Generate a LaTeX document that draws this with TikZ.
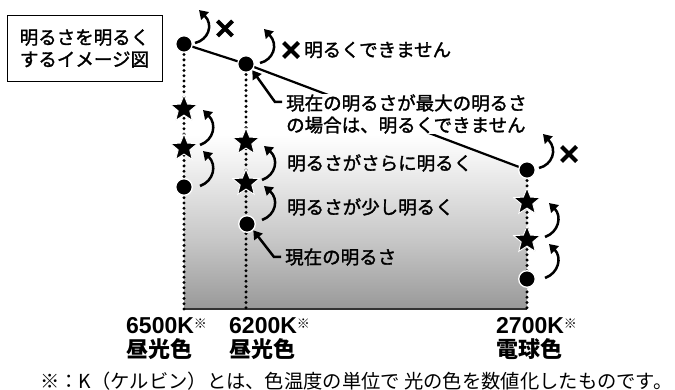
\documentclass[tikz,border=0pt]{standalone}
\usepackage{fontspec}
\setmainfont{Noto Sans CJK JP}
\newfontfamily\jpmed{Noto Sans CJK JP}[FakeBold=1.6]
\newfontfamily\latinb{Liberation Sans}
\usetikzlibrary{shapes.geometric,arrows.meta}
\pgfdeclareverticalshading{brightfill}{100bp}{color(0bp)=(black!40); color(25bp)=(black!40); color(38bp)=(black!22); color(53bp)=(black!5); color(58bp)=(white); color(100bp)=(white)}
\tikzset{
  bigdot/.style={circle, fill=black, draw=white, line width=1.3pt, minimum size=16.5pt, inner sep=0pt},
  starm/.style={star, star points=5, star point ratio=2.3, fill=black, draw=white, line width=0.9pt, minimum size=28pt, inner sep=0pt},
  dotline/.style={line width=3.3pt, line cap=round, dash pattern=on 0pt off 5.3pt, black},
  carrow/.style={line width=2.5pt, -{Triangle[length=8.5pt,width=10.5pt]}},
  crossm/.style={line width=4pt},
  lbl/.style={anchor=west, inner sep=0pt, font=\jpmed\fontsize{18.5pt}{25pt}\selectfont},
  klbl/.style={anchor=west, inner sep=0pt, font=\latinb\bfseries\fontsize{23pt}{25pt}\selectfont},
  clbl/.style={anchor=west, inner sep=0pt, font=\bfseries\fontsize{22pt}{25pt}\selectfont},
}
\newcommand\kmark{\raisebox{5pt}{\rmfamily\mdseries\fontsize{13pt}{13pt}\selectfont ※}}
\begin{document}
\begin{tikzpicture}[x=1pt,y=-1pt]
\useasboundingbox (0,0) rectangle (675,390);
% key points
\coordinate (a1) at (184,44);
\coordinate (b1) at (246,64);
\coordinate (c1) at (527,170);
\coordinate (a0) at (184,309);
\coordinate (b0) at (246,309);
\coordinate (c0) at (527,309);
% shaded area
\shade[shading=brightfill] (a1) -- (b1) -- (c1) -- (c0) -- (a0) -- cycle;
\draw[line width=2.2pt, black!80] (a0) -- (c0);
\draw[line width=2.2pt] (a1) -- (b1) -- (c1);
% dotted columns
\draw[dotline] (a1) -- (a0);
\draw[dotline] (b1) -- (b0);
\draw[dotline] (c1) -- (c0);
% markers
\node[bigdot] (A1) at (a1) {};
\node[bigdot] (B1) at (b1) {};
\node[bigdot] (C1) at (c1) {};
\node[starm] (A2) at (184,109) {};
\node[starm] (A3) at (184,148) {};
\node[bigdot] (A4) at (184,187) {};
\node[starm] (B2) at (246,142) {};
\node[starm] (B3) at (246,183) {};
\node[bigdot] (B4) at (247,224) {};
\node[starm] (C2) at (527,202) {};
\node[starm] (C3) at (527,240) {};
\node[bigdot] (C4) at (527,279) {};
% step arrows
\draw[carrow] (200,186) .. controls (214,181) and (217,165) .. (203,151);
\draw[carrow] (200,145) .. controls (214,140) and (217,124) .. (203,110);
\draw[carrow] (262,180) .. controls (276,175) and (279,159) .. (264,146);
\draw[carrow] (262,220) .. controls (276,215) and (279,199) .. (264,186);
\draw[carrow] (545,237) .. controls (559,232) and (562,216) .. (549,203);
\draw[carrow] (545,278) .. controls (559,273) and (562,257) .. (549,244);
% blocked arrows
\draw[carrow] (195,43) .. controls (208,40) and (214,25) .. (199,10);
\draw[carrow] (260,63) .. controls (273,60) and (279,45) .. (264,29);
\draw[carrow] (539,168) .. controls (552,165) and (558,150) .. (543,134);
% crosses
\foreach \cx/\cy in {225/28.5, 291/50, 569/154}{
  \draw[crossm] (\cx-7.5,\cy-7.5) -- (\cx+7.5,\cy+7.5);
  \draw[crossm] (\cx-7.5,\cy+7.5) -- (\cx+7.5,\cy-7.5);
}
% pointer arrows
\coordinate (p1) at (282,102);
\coordinate (p2) at (281,257);
\draw[carrow] (p1) -- (275,102) -- (B1.south east);
\draw[carrow] (p2) -- (274,257) -- (B4.south east);
% labels
\node[draw, line width=1pt, minimum width=155pt, minimum height=66pt, inner sep=0pt, align=center,
      font=\jpmed\fontsize{18.5pt}{22pt}\selectfont] (box) at (84.5,48.5) {明るさを明るく\\するイメージ図};
\node[lbl] (t1) at (304,50) {明るくできません};
\node[lbl, align=left, fill=white] (t2) at (286,114) {現在の明るさが最大の明るさ\\[-3pt]の場合は、明るくできません};
\node[lbl] (t3) at (287,163) {明るさがさらに明るく};
\node[lbl] (t4) at (287,207) {明るさが少し明るく};
\node[lbl] (t5) at (285,257) {現在の明るさ};
% temperatures
\node[klbl] (k1) at (126,326) {6500K\kmark};
\node[klbl] (k2) at (229,326) {6200K\kmark};
\node[klbl] (k3) at (496,326) {2700K\kmark};
\node[clbl] (n1) at (126,349) {昼光色};
\node[clbl] (n2) at (229,349) {昼光色};
\node[clbl] (n3) at (496,349) {電球色};
\node[anchor=west, inner sep=0pt, font=\fontsize{19.3pt}{20pt}\selectfont] (fn) at (40,381) {※：K（ケルビン）とは、色温度の単位で 光の色を数値化したものです。};
\end{tikzpicture}
\end{document}
